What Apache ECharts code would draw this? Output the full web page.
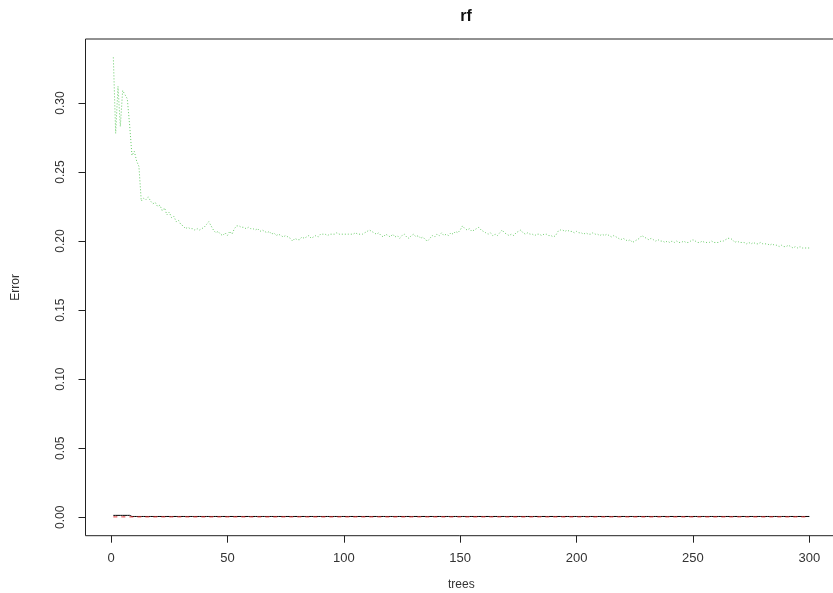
<!DOCTYPE html>
<html>
<head>
<meta charset="utf-8">
<script src="https://cdn.jsdelivr.net/npm/echarts@6/dist/echarts.min.js"></script>
<style>html,body{margin:0;padding:0;background:#fff;}#c{width:833px;height:593px;}</style>
</head>
<body>
<div id="c"></div>
<script>
// tick labels
const xTicks = [0, 50, 100, 150, 200, 250, 300];
const yTicks = [0.00, 0.05, 0.10, 0.15, 0.20, 0.25, 0.30];

// class 2 error (green, dotted), trees 1..300
const errClass2 = [
  0.333,0.278,0.312,0.283,0.309,0.306,0.303,0.284,0.262,0.265,
  0.258,0.254,0.229,0.231,0.230,0.232,0.229,0.227,0.228,0.225,
  0.226,0.222,0.224,0.219,0.221,0.217,0.218,0.214,0.215,0.212,
  0.211,0.209,0.210,0.209,0.209,0.208,0.209,0.208,0.209,0.210,
  0.212,0.214,0.211,0.208,0.206,0.207,0.205,0.204,0.206,0.204,
  0.207,0.205,0.209,0.211,0.211,0.210,0.210,0.209,0.210,0.209,
  0.209,0.208,0.209,0.207,0.208,0.207,0.206,0.207,0.205,0.206,
  0.204,0.205,0.204,0.203,0.204,0.203,0.202,0.200,0.202,0.201,
  0.201,0.203,0.202,0.203,0.204,0.202,0.203,0.204,0.203,0.205,
  0.205,0.205,0.204,0.205,0.205,0.205,0.206,0.205,0.205,0.205,
  0.205,0.205,0.205,0.205,0.206,0.205,0.205,0.205,0.206,0.207,
  0.208,0.207,0.206,0.205,0.206,0.204,0.203,0.205,0.204,0.203,
  0.205,0.203,0.204,0.202,0.204,0.205,0.203,0.202,0.204,0.205,
  0.203,0.204,0.202,0.203,0.201,0.200,0.202,0.204,0.203,0.205,
  0.204,0.206,0.204,0.205,0.204,0.206,0.205,0.207,0.206,0.208,
  0.211,0.209,0.208,0.209,0.207,0.208,0.209,0.210,0.208,0.207,
  0.206,0.205,0.206,0.204,0.205,0.204,0.206,0.208,0.206,0.205,
  0.204,0.205,0.204,0.206,0.207,0.208,0.206,0.205,0.206,0.205,
  0.205,0.204,0.205,0.205,0.204,0.205,0.205,0.204,0.204,0.203,
  0.204,0.207,0.208,0.208,0.207,0.208,0.207,0.207,0.206,0.207,
  0.206,0.206,0.205,0.206,0.205,0.205,0.206,0.205,0.205,0.204,
  0.205,0.204,0.205,0.204,0.203,0.204,0.203,0.202,0.201,0.202,
  0.201,0.200,0.201,0.199,0.200,0.201,0.202,0.204,0.203,0.202,
  0.201,0.202,0.201,0.200,0.201,0.200,0.200,0.199,0.200,0.199,
  0.200,0.199,0.200,0.199,0.199,0.200,0.199,0.199,0.200,0.201,
  0.200,0.199,0.199,0.200,0.199,0.199,0.199,0.200,0.199,0.199,
  0.199,0.200,0.200,0.201,0.202,0.202,0.201,0.199,0.200,0.199,
  0.199,0.199,0.198,0.199,0.198,0.199,0.198,0.198,0.199,0.198,
  0.198,0.198,0.197,0.198,0.197,0.197,0.196,0.197,0.196,0.196,
  0.197,0.196,0.195,0.196,0.195,0.196,0.195,0.195,0.195,0.195
];

// OOB error (black, solid): first 8 trees slightly higher
const errOOBHead = [0.0014,0.0014,0.0014,0.0014,0.0014,0.0014,0.0014,0.0014];
const errOOBTail = 0.0006;
// class 1 error (red, dashed)
const errClass1 = 0.0003;

const nTrees = errClass2.length;
const trees = [];
for (let i = 1; i <= nTrees; i++) trees.push(i);

const greenData = trees.map((t, i) => [t, errClass2[i]]);
const blackData = trees.map((t, i) => [t, i < errOOBHead.length ? errOOBHead[i] : errOOBTail]);
const redData = trees.map(t => [t, errClass1]);

// R-style 4% axis extension
const xMin = 1 - 0.04 * (nTrees - 1), xMax = nTrees + 0.04 * (nTrees - 1);
const yDataMax = Math.max(...errClass2), yDataMin = 0;
const yExt = 0.04 * (yDataMax - yDataMin);
const yMin = yDataMin - yExt, yMax = yDataMax + yExt;

const chart = echarts.init(document.getElementById('c'), null, {renderer: 'canvas'});
const font = 'Liberation Sans, Arial, Helvetica, sans-serif';
chart.setOption({
  animation: false,
  backgroundColor: '#fff',
  title: {
    text: 'rf', left: 461, top: 4, textAlign: 'center',
    textStyle: {fontFamily: font, fontSize: 16, fontWeight: 'bold', color: '#111'}
  },
  grid: {left: 85.5, top: 39, width: 751.7, height: 496.7, show: true, borderColor: '#222', borderWidth: 1,
         backgroundColor: 'transparent', containLabel: false, outerBoundsMode: 'none'},
  xAxis: {
    type: 'value', min: xMin, max: xMax,
    name: 'trees', nameLocation: 'middle', nameGap: 43,
    nameTextStyle: {fontFamily: font, fontSize: 12, color: '#333'},
    axisLine: {show: false, onZero: false},
    axisTick: {show: true, length: 7, inside: false, customValues: xTicks, lineStyle: {color: '#222'}},
    axisLabel: {customValues: xTicks, margin: 16, fontFamily: font, fontSize: 13, color: '#333', formatter: v => String(v)},
    splitLine: {show: false}
  },
  yAxis: {
    type: 'value', min: yMin, max: yMax,
    name: 'Error', nameLocation: 'middle', nameGap: 64, nameRotate: 90,
    nameTextStyle: {fontFamily: font, fontSize: 12, color: '#333'},
    axisLine: {show: false, onZero: false},
    axisTick: {show: true, length: 7, inside: false, customValues: yTicks, lineStyle: {color: '#222'}},
    axisLabel: {customValues: yTicks, rotate: 90, margin: 19, fontFamily: font, fontSize: 12, color: '#333', formatter: v => v.toFixed(2)},
    splitLine: {show: false}
  },
  series: [
    {type: 'line', data: blackData, showSymbol: false, lineStyle: {color: '#000', width: 1, type: 'solid'}, z: 2},
    {type: 'line', data: redData, showSymbol: false, lineStyle: {color: '#e03030', width: 1, type: [4, 4]}, z: 3},
    {type: 'line', data: greenData, showSymbol: false, lineStyle: {color: '#66cc66', width: 1, type: [1, 2]}, z: 4}
  ]
});
</script>
</body>
</html>
